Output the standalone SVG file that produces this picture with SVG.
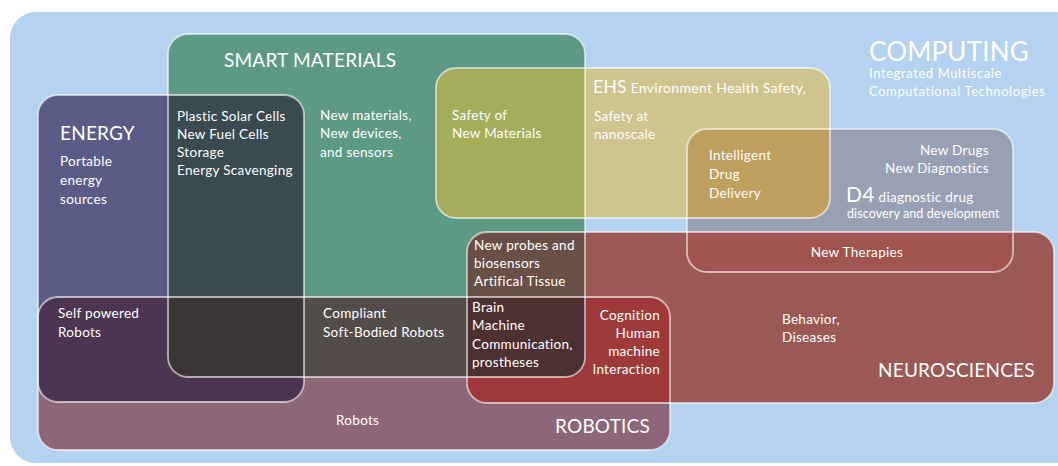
<svg xmlns="http://www.w3.org/2000/svg" width="1058" height="466" viewBox="0 0 1058 466">
<style>
text{font-family:Lato,"Open Sans","Liberation Sans",sans-serif;fill:#ffffff;font-size:13.5px;letter-spacing:0.3px}
.t{font-size:19px;letter-spacing:0.2px}
.outline{fill:none;stroke:#ffffff;stroke-opacity:0.6;stroke-width:1.8}
.end{text-anchor:end}
.mid{text-anchor:middle}
</style>
<defs>
<rect id="rS" x="168" y="34" width="417" height="343" rx="20"/>
<rect id="rE" x="38" y="95" width="266" height="307" rx="20"/>
<rect id="rR" x="38" y="297" width="632" height="153" rx="20"/>
<rect id="rH" x="436" y="68" width="394" height="150" rx="20"/>
<rect id="rD" x="687" y="129" width="326" height="143" rx="20"/>
<rect id="rN" x="467" y="232" width="587" height="171" rx="20"/>
<clipPath id="cS"><use href="#rS"/></clipPath>
<clipPath id="cE"><use href="#rE"/></clipPath>
<clipPath id="cR"><use href="#rR"/></clipPath>
<clipPath id="cH"><use href="#rH"/></clipPath>
<clipPath id="cD"><use href="#rD"/></clipPath>
<clipPath id="cN"><use href="#rN"/></clipPath>
</defs>
<rect x="0" y="0" width="1058" height="466" fill="#ffffff"/>
<g id="computing">
<rect x="10" y="12" width="1080" height="451" rx="26" fill="#b5d3f1"/>
<text x="869" y="61" style="font-size:26px;letter-spacing:0.2px">COMPUTING</text>
<text x="869" y="78" style="font-size:13px;letter-spacing:0.6px">Integrated Multiscale</text>
<text x="869" y="96" style="font-size:13px;letter-spacing:0.6px">Computational Technologies</text>
</g>
<g id="fills">
<use href="#rS" fill="#5c9a86"/>
<use href="#rE" fill="#5a5b87"/>
<use href="#rR" fill="#8d6677"/>
<use href="#rH" fill="#cdc58d"/>
<use href="#rD" fill="#98a1b3"/>
<use href="#rN" fill="#9b5956"/>
<g clip-path="url(#cS)"><use href="#rE" fill="#3b4a50"/><use href="#rR" fill="#544c49"/><use href="#rH" fill="#a4ad5a"/><use href="#rN" fill="#6a4f47"/></g>
<g clip-path="url(#cE)"><use href="#rR" fill="#4c3550"/></g>
<g clip-path="url(#cR)"><use href="#rN" fill="#a03a3a"/></g>
<g clip-path="url(#cH)"><use href="#rD" fill="#c0a05e"/></g>
<g clip-path="url(#cD)"><use href="#rN" fill="#a0534f"/></g>
<g clip-path="url(#cS)"><g clip-path="url(#cR)"><use href="#rE" fill="#3b3538"/><use href="#rN" fill="#4d3030"/></g></g>
</g>
<g id="outlines">
<use href="#rS" class="outline"/>
<use href="#rE" class="outline"/>
<use href="#rR" class="outline"/>
<use href="#rH" class="outline"/>
<use href="#rD" class="outline"/>
<use href="#rN" class="outline"/>
</g>
<g id="smart-materials">
<text x="224" y="67" class="t">SMART MATERIALS</text>
<text x="320" y="120">New materials,</text>
<text x="320" y="138">New devices,</text>
<text x="320" y="157">and sensors</text>
</g>
<g id="energy">
<text x="60" y="140" class="t">ENERGY</text>
<text x="60" y="166">Portable</text>
<text x="60" y="185">energy</text>
<text x="60" y="204">sources</text>
<text x="177" y="121">Plastic Solar Cells</text>
<text x="177" y="139">New Fuel Cells</text>
<text x="177" y="157">Storage</text>
<text x="177" y="175">Energy Scavenging</text>
</g>
<g id="ehs">
<text x="593" y="93"><tspan style="font-size:17.5px">EHS</tspan> <tspan style="font-size:14px">Environment Health Safety,</tspan></text>
<text x="594" y="121">Safety at</text>
<text x="594" y="139">nanoscale</text>
<text x="452" y="120">Safety of</text>
<text x="452" y="138">New Materials</text>
</g>
<g id="d4">
<text x="709" y="160">Intelligent</text>
<text x="709" y="179">Drug</text>
<text x="709" y="198">Delivery</text>
<text x="989" y="155" class="end">New Drugs</text>
<text x="989" y="173" class="end">New Diagnostics</text>
<text x="846" y="202"><tspan style="font-size:21px">D4</tspan> diagnostic drug</text>
<text x="847" y="218" style="font-size:12.5px;letter-spacing:0.1px">discovery and development</text>
<text x="857" y="257" class="mid">New Therapies</text>
</g>
<g id="robotics">
<text x="58" y="318">Self powered</text>
<text x="58" y="337">Robots</text>
<text x="323" y="318">Compliant</text>
<text x="323" y="337">Soft-Bodied Robots</text>
<text x="336" y="425">Robots</text>
<text x="555" y="433" class="t">ROBOTICS</text>
</g>
<g id="neurosciences">
<text x="474" y="250">New probes and</text>
<text x="474" y="268">biosensors</text>
<text x="474" y="286">Artifical Tissue</text>
<text x="472" y="312">Brain</text>
<text x="472" y="330">Machine</text>
<text x="472" y="349">Communication,</text>
<text x="472" y="367">prostheses</text>
<text x="660" y="320" class="end">Cognition</text>
<text x="660" y="338" class="end">Human</text>
<text x="660" y="356" class="end">machine</text>
<text x="660" y="374" class="end">Interaction</text>
<text x="782" y="324">Behavior,</text>
<text x="782" y="342">Diseases</text>
<text x="878" y="377" class="t">NEUROSCIENCES</text>
</g>
</svg>
